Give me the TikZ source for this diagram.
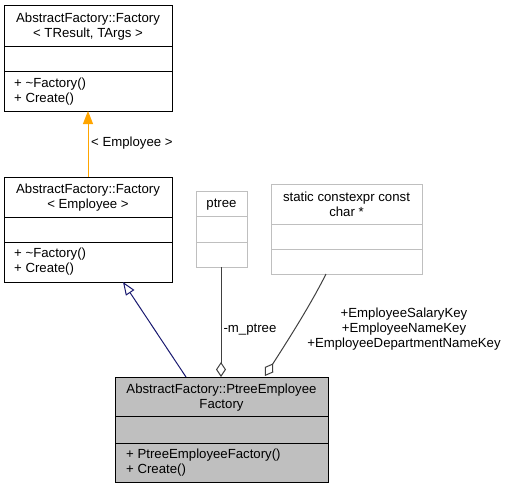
\documentclass[tikz,border=0pt]{standalone}
\usepackage{fontspec}
\setmainfont{Liberation Sans}
\usetikzlibrary{arrows.meta}
\definecolor{boxgray}{HTML}{BFBFBF}
\definecolor{linegray}{HTML}{404040}
\definecolor{inhblue}{HTML}{191970}
\definecolor{tplorange}{HTML}{FFA500}
\begin{document}
\begin{tikzpicture}[x=1pt,y=-1pt,
  font=\fontsize{13.2}{15}\selectfont,
  classbox/.style={draw=black,line width=1pt,inner sep=0pt,minimum width=#1},
  extbox/.style={draw=boxgray,line width=1pt,inner sep=0pt,minimum width=#1},
  txt/.style={inner sep=0pt,align=center},
  mtxt/.style={inner sep=0pt,align=left,anchor=west},
  conn/.style={line width=1pt}
]
\useasboundingbox (0,0) rectangle (507,488);

% Factory<TResult,TArgs>
\node[classbox=168pt,minimum height=106pt] (f1) at (88,58) {};
\draw[line width=1pt] (4,46) -- (172,46) (4,71) -- (172,71);
\node[txt] (f1n) at (88,26.5) {AbstractFactory::Factory\\< TResult, TArgs >};
\node[mtxt] (f1m) at (14,92) {+ \textasciitilde Factory()\\+ Create()};

% Factory<Employee>
\node[classbox=168pt,minimum height=105pt] (f2) at (88,229.5) {};
\draw[line width=1pt] (4,217) -- (172,217) (4,242) -- (172,242);
\node[txt] (f2n) at (88,197.5) {AbstractFactory::Factory\\< Employee >};
\node[mtxt] (f2m) at (14,262) {+ \textasciitilde Factory()\\+ Create()};

% ptree
\node[extbox=51pt,minimum height=76pt] (pt) at (221.5,229) {};
\draw[boxgray,line width=1pt] (196,216) -- (247,216) (196,242) -- (247,242);
\node[txt] (ptn) at (221.5,204.5) {ptree};

% static constexpr const char *
\node[extbox=151pt,minimum height=90pt] (st) at (346.5,229) {};
\draw[boxgray,line width=1pt] (271,224) -- (422,224) (271,249) -- (422,249);
\node[txt] (stn) at (346.5,204.5) {static constexpr const\\char *};

% PtreeEmployeeFactory
\node[classbox=213pt,minimum height=105pt,fill=boxgray] (pe) at (221.5,429.5) {};
\draw[line width=1pt] (115,416) -- (328,416) (115,443) -- (328,443);
\node[txt] (pen) at (221.5,397.5) {AbstractFactory::PtreeEmployee\\Factory};
\node[mtxt] (pem) at (126,462.5) {+ PtreeEmployeeFactory()\\+ Create()};

% connector end points
\coordinate (f2top) at (88,177);
\coordinate (f1bot) at (88,111);
\coordinate (pein) at (186,377);
\coordinate (f2out) at (123,282);
\coordinate (ptout) at (221,267);
\coordinate (pept) at (221,377);
\coordinate (stout) at (326,274);
\coordinate (pest) at (265,376);

% template instantiation
\draw[conn,tplorange,-{Triangle[length=13pt,width=10pt]}] (f2top) -- (f1bot);
\node[inner sep=0pt,anchor=west] (lblemp) at (91,143.5) {< Employee >};

% inheritance
\draw[conn,inhblue,-{Triangle[open,length=13pt,width=10pt]}] (pein) -- (f2out);

% usage: ptree
\draw[conn,linegray,-{Diamond[open,length=15pt,width=10pt]}] (ptout) -- (pept);
\node[inner sep=0pt] (lblpt) at (250,329.5) {-m\_ptree};

% usage: keys
\draw[conn,linegray,-{Diamond[open,length=15pt,width=10pt]}] (stout) .. controls (312,302) and (292,334) .. (pest);
\node[txt] (lblkeys) at (404,329) {+EmployeeSalaryKey\\+EmployeeNameKey\\+EmployeeDepartmentNameKey};
\end{tikzpicture}
\end{document}
